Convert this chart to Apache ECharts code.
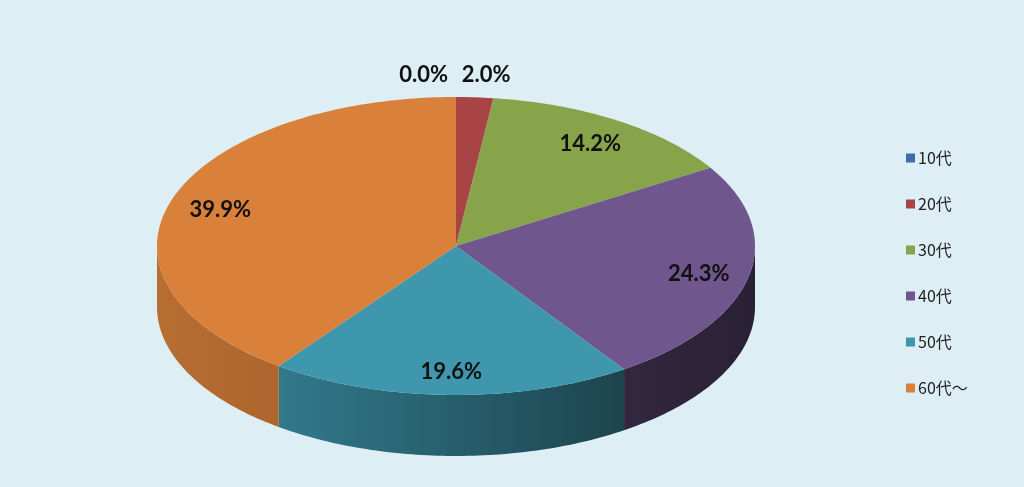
<!DOCTYPE html>
<html>
<head>
<meta charset="utf-8">
<title>年代別構成比</title>
<script src="https://cdn.jsdelivr.net/npm/echarts@6/dist/echarts.min.js"></script>
<style>
  html, body { margin: 0; padding: 0; background: #ddeef4; }
  #chart { width: 1024px; height: 487px; }
</style>
</head>
<body>
<div id="chart"></div>
<script>
// 年代と構成比(%)
var categories = ['10代', '20代', '30代', '40代', '50代', '60代～'];
var shares = [0.0, 2.0, 14.2, 24.3, 19.6, 39.9];
var colors = ['#3d6ea9', '#a84443', '#88a44b', '#6f568c', '#3f97ae', '#d9803a'];

// 楕円の形（3D風）
var CX = 456, CY = 246, RX = 299, RY = 149, DEPTH = 61;
var LABEL_IN = 0.83, LABEL_OUT = 1.15;

var total = shares.reduce(function (a, b) { return a + b; }, 0);
var starts = [];
var acc = 0;
shares.forEach(function (v) { starts.push(acc / total); acc += v; });

function pt(t, dy) {
    var a = t * Math.PI * 2;
    return [CX + RX * Math.sin(a), CY - RY * Math.cos(a) + (dy || 0)];
}

function arc(t0, t1, dy) {
    var n = Math.max(2, Math.ceil((t1 - t0) * 360));
    var out = [];
    for (var k = 0; k <= n; k++) out.push(pt(t0 + (t1 - t0) * k / n, dy));
    return out;
}

function shade(hex, f) {
    var r = parseInt(hex.substr(1, 2), 16), g = parseInt(hex.substr(3, 2), 16), b = parseInt(hex.substr(5, 2), 16);
    return 'rgb(' + Math.round(r * f) + ',' + Math.round(g * f) + ',' + Math.round(b * f) + ')';
}

function renderSlice(i) {
    return function (params, api) {
        var v = api.value(0);
        var t0 = starts[i], t1 = t0 + v / total;
        var children = [];
        // 側面（手前の部分だけ）
        var b0 = Math.max(t0, 0.25), b1 = Math.min(t1, 0.75);
        if (b1 > b0) {
            var pts = arc(b0, b1, 0).concat(arc(b0, b1, DEPTH).reverse());
            children.push({
                type: 'polygon',
                shape: { points: pts },
                style: {
                    fill: {
                        type: 'linear', global: true,
                        x: CX - RX, y: 0, x2: CX + RX, y2: 0,
                        colorStops: [
                            { offset: 0, color: shade(colors[i], 0.85) },
                            { offset: 0.2, color: shade(colors[i], 0.80) },
                            { offset: 0.5, color: shade(colors[i], 0.62) },
                            { offset: 0.78, color: shade(colors[i], 0.45) },
                            { offset: 1, color: shade(colors[i], 0.38) }
                        ]
                    }
                }
            });
        }
        // 上面
        if (t1 > t0) {
            children.push({
                type: 'polygon',
                shape: { points: [[CX, CY]].concat(arc(t0, t1, 0)) },
                style: { fill: colors[i] }
            });
        }
        // ラベル
        var mid = (t0 + t1) / 2;
        var outside = v / total < 0.05;
        var lp, align = 'center';
        if (outside) {
            var s = Math.sin(mid * Math.PI * 2);
            lp = pt(mid, 0);
            lp = [CX + (lp[0] - CX) * 0.2 + (s > 0 ? 2 : -8), CY - RY * LABEL_OUT * Math.cos(mid * Math.PI * 2)];
            align = s > 0 ? 'left' : 'right';
        } else {
            var a = mid * Math.PI * 2;
            lp = [CX + RX * LABEL_IN * Math.sin(a), CY - RY * LABEL_IN * Math.cos(a) + 2];
        }
        children.push({
            type: 'text',
            z2: 10,
            style: {
                x: lp[0], y: lp[1],
                text: v.toFixed(1) + '%',
                align: align, verticalAlign: 'middle',
                fill: '#111',
                font: 'bold 22px Lato, "Noto Sans", sans-serif'
            }
        });
        return { type: 'group', children: children };
    };
}

var myChart = echarts.init(document.getElementById('chart'));
var option = {
    backgroundColor: '#ddeef4',
    animation: false,
    legend: {
        orient: 'vertical',
        left: 901,
        top: 145,
        icon: 'rect',
        itemWidth: 9,
        itemHeight: 9,
        itemGap: 30,
        textStyle: { color: '#222', fontSize: 16, fontFamily: '"Noto Sans CJK JP", sans-serif', padding: [0, 0, 0, -2] },
        data: categories
    },
    series: categories.map(function (name, i) {
        return {
            name: name,
            type: 'custom',
            coordinateSystem: 'none',
            itemStyle: { color: colors[i] },
            renderItem: renderSlice(i),
            data: [[shares[i]]]
        };
    })
};
myChart.setOption(option);
</script>
</body>
</html>
